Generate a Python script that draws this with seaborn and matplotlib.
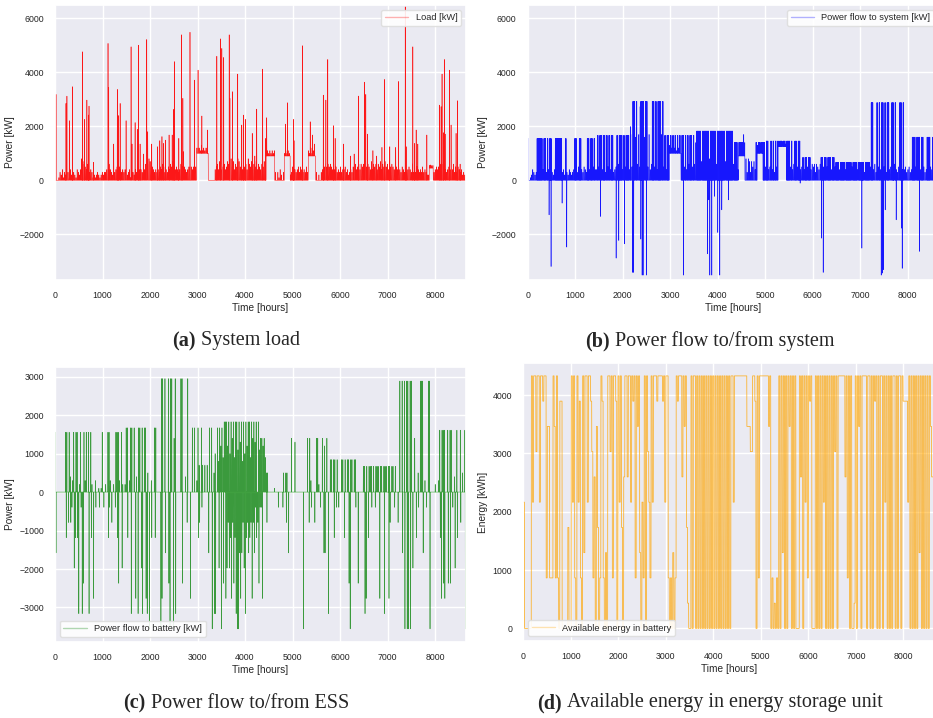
import numpy as np
import pandas as pd
import matplotlib
matplotlib.use("Agg")
import matplotlib.pyplot as plt
from matplotlib.ticker import MultipleLocator
import seaborn as sns

sns.set_theme(style="darkgrid")
plt.rcParams["font.family"] = ["Liberation Sans", "DejaVu Sans"]

HOURS_PER_DAY = 24

# Day codes: '.' nothing, digits = hundreds of kW, A..H = 1000..1700 kW,
# 'X' = full pulse up to the period's converter limit.
LEVEL_CODES = {".": 0}
LEVEL_CODES.update({str(n): n * 100 for n in range(10)})
LEVEL_CODES.update({c: 1000 + 100 * i for i, c in enumerate("ABCDEFGH")})

# ---------------------------------------------------------------- (a) load
load_band_rows = [
    "000132413243142332143248675463",
    "343121232123233456432134565434",
    "343234123243334435465687654343",
    "435465343546576454346545434565",
    "4545" "2121312122" "000000" "4564746564",
    "576485746587564756486574657465",
    "4657" "4" "12121212" "30314203" "121212" "354",
    "434535434353" "2131212" "30203465656",
    "565464534353445342343546456465",
    "657565474656465746575647565465",
    "454354353454363535434353432211",
    "113454546565434545463535434232",
]
load_plateau_start = [2980, 4440, 4830, 5330, 7880]
load_plateau_end = [3225, 4620, 4950, 5480, 7960]
load_plateau_kw = [1000, 900, 900, 900, 450]
load_peak_hour = [
    20, 230, 250, 300, 365, 580, 620, 670, 700, 715,
    810, 1115, 1130, 1235, 1310, 1335, 1370, 1495, 1600, 1620,
    1685, 1735, 1755, 1790, 1860, 1930, 1950, 2035, 2155, 2205,
    2250, 2280, 2320, 2400, 2465, 2490, 2510, 2605, 2665, 2690,
    2700, 2840, 2935, 3010, 3090, 3205, 3405, 3480, 3510, 3550,
    3665, 3680, 3735, 3845, 3930, 3965, 4005, 4150, 4205, 4245,
    4370, 4435, 4455, 4850, 4890, 5015, 5030, 5205, 5370, 5415,
    5460, 5645, 5700, 5740, 5860, 5895, 6070, 6215, 6295, 6385,
    6510, 6540, 6580, 6690, 6770, 6880, 6935, 7045, 7170, 7230,
    7370, 7390, 7530, 7565, 7600, 7635, 7825, 7895, 8090, 8125,
    8145, 8175, 8195, 8210, 8300, 8335, 8440, 8470, 8525,
]
load_peak_kw = [
    3185, 2850, 3120, 2210, 3470, 4765, 2260, 2975, 2420, 2750,
    670, 5075, 3440, 1345, 3370, 2400, 2850, 2210, 4950, 1345,
    2140, 1890, 5010, 1345, 975, 5220, 1800, 1345, 1245, 1470,
    1620, 1370, 1490, 1680, 1680, 2630, 4400, 1555, 5395, 3040,
    1060, 5490, 3715, 4085, 2385, 1865, 4600, 5245, 4890, 4555,
    5395, 3040, 3285, 3940, 2050, 2420, 2260, 1740, 900, 2640,
    4125, 1555, 2320, 2085, 2875, 2260, 1470, 4990, 2170, 1680,
    1345, 3160, 2975, 4480, 2025, 1555, 1345, 900, 975, 3125,
    3640, 3185, 1715, 1100, 900, 1220, 3740, 1245, 1220, 3665,
    6430, 1245, 4950, 1370, 1865, 1345, 1680, 570, 2790, 2730,
    3940, 1765, 4480, 1715, 4085, 2050, 1740, 2950, 600,
]

# ------------------------------------------------- (b) flow to/from system
limit_start_hour = [0, 1450, 2180, 2860, 3550, 4320, 4980, 5760, 6460, 7200, 7940]
flow_limit_kw = [1550, 1667, 2926, 1667, 1827, 1407, 1457, 850, 667, 2880, 1600]
flow_day_rows = [
    "X0124323XXXXX4XX3X4XX324XXXXXX",
    "342X3243234XX35XX43543XX4XX5X4",
    "4X5XX4XX3X5X4XX345X6XXX4X5XXX4",
    "H5XXGX6H5XXXGXX5H46XX5X4XXXHX5",
    "X4XX3X2X2X1X2X0XX5X4X6XX5X6EXX",
    "XX7XXXXXX8XXXXX6XXXXXXX7XXXXXX",
    "6XXX4XXXX85838737574X3XX4XXX5X",
    "X45X4X3X5X2XX2XX1XXX5X46XX5XX4",
    "5X4XX5XX465636546XX5XX5XXX4XX5",
    "XXX4XXXX4XXXXX5XXXX4XXXXX3XXXX",
    "5XX463X5X4XX5X3XX45XX6X435XX4X",
    "4534534XXX5XXX4XX534XXX54XX5XX",
]
flow_plateau_start = [2980, 4430, 4830, 5270]
flow_plateau_end = [3225, 4570, 4950, 5450]
flow_plateau_kw = [1000, 900, 1000, 1250]
flow_peak_hour = [
    449, 491, 723, 821, 1530, 1860, 1916, 2035, 2160, 2210,
    2230, 2365, 2380, 2407, 2428, 2500, 3277, 3782, 3810, 3832,
    3874, 3930, 4000, 4042, 4084, 4225, 5733, 6182, 6218, 7032,
    7439, 7467, 7488, 7523, 7700, 7754, 7840, 7867, 7881, 8246,
]
flow_peak_kw = [
    -1285, -3200, -850, -2480, -1345, -2890, -2235, -2360, 1990, -3420,
    -3420, 2730, -2185, -3520, -3520, -3520, -3520, -2730, -730, -3520,
    -3520, -600, -1940, -3520, -1100, -730, -110, -2150, -3420, -2520,
    -3520, -3445, -3320, -1100, 2050, -1470, 1640, -1780, -3270, -2640,
]

# ------------------------------------------------ (c) battery power flow
batt_limit_kw = [1556, 1670, 2948, 1670, 1826, 1400, 1400, 843, 670, 2887, 1609]
batt_charge_rows = [
    "X........XX.X4.3X.XX.2X..X3X.X",
    ".X2..3..1.1X..2.XX3..2.XXX3.X2",
    ".2XX.3XX.X.4.XX.X.XX.5..3..XX.",
    "...XX.X..X.XX.EX....XX..4.X...",
    "X.X.3X7.X7.7.7.X.X.5A.X8XCX9XX",
    "XCXAXEX9XXBXDX8XAXCXX9XEXDX.XB",
    "XXCX955.....1.......5.55...X..",
    "D..........X.X3....XX2..X.C.X.",
    ".XX.XX.X...XX.X.XX.XX.XX......",
    "XX.X.XXX.X.XXX.XX.XXX.XX.XX.X.",
    "..X.X.X.XX.XX..E..5.XXX.3..XX.",
    "...2..3X.XXX..X.XX..4.X..X.5.X",
]
# discharge depth per day, in steps of 395 kW
batt_discharge_rows = [
    "400000000302021053038018600008",
    "030701001000100031020010360050",
    "000300800070800580078090300300",
    "009700400690090800000600020070",
    "000003201000004009088005090607",
    "525372638994742583243272413261",
    "170002000000000100010020400000",
    "0000000900" "0020100200" "0010044008",
    "0000301010" "0003000690" "0001060000",
    "087030010010007000800072000100",
    "200040909909050030100040010090",
    "000000037067006060105030020009",
]
DISCHARGE_STEP_KW = 395

# --------------------------------------------- (d) stored energy, per day
# '0'..'9' = n * 433 kWh, 'F' = full (4330 kWh)
soc_rows = [
    "5000000F5FF7FF5FF9FF288222F82F",
    "209900000400F5F20F5920F3FF5FF9",
    "72608402F92030FF7F2FF90F5F406F",
    "F6FF5F9F2F8F3052F0F752F5FFF9FF",
    "FF9F5FF2020302F9FFF6F8F4100F0F",
    "F0F0F0F0F0F0F0F0F0F0F0F0F0F0F0",
    "F0FF5FFFFFFFFFFF88877FF90F2FFF",
    "FFFFF8F0201020F0F3F0F0F8F0F0F0",
    "00F6F0F5F2F9F000F0F0F0F5F0F0F0",
    "F0F7F0FFFFFF6F2F0F001F0F8F0FFF",
    "F0FF0F0F9F0F0FF0F5F0F0F0FF0F0F",
    "F0F99995F0F0F0F0F3F0F0F0F0F866",
]
SOC_STEP_KWH = 433


def plateau_base(n_hours, starts, ends, levels):
    base = np.zeros(n_hours)
    for s, e, v in zip(starts, ends, levels):
        base[s:e] = v
    return base


def limit_at(hour, starts, limits):
    return limits[np.searchsorted(starts, hour, side="right") - 1]


def daily_pulses(codes, base, starts, limits, windows):
    """Apply one day code per day; 'X' days run at the limit during each window."""
    y = base.copy()
    for d, c in enumerate(codes):
        h0 = d * HOURS_PER_DAY
        if c == "X":
            cap = limit_at(h0, starts, limits)
            for a, b in windows:
                y[h0 + a:h0 + b] = cap
        elif c != ".":
            y[h0 + 8:h0 + 12] = base[h0 + 8:h0 + 12] + LEVEL_CODES[c]
    return y


def add_peaks(y, hours, values):
    for h, v in zip(hours, values):
        y[h:h + 2] = v
    return y


# ---- build hourly series
load_codes = "".join(load_band_rows)
n_hours = len(load_codes) * HOURS_PER_DAY
hours = np.arange(n_hours)

load = plateau_base(n_hours, load_plateau_start, load_plateau_end, load_plateau_kw)
load = daily_pulses(load_codes, load, limit_start_hour, flow_limit_kw, [(3, 6)])
load = add_peaks(load, load_peak_hour, load_peak_kw)

flow = plateau_base(n_hours, flow_plateau_start, flow_plateau_end, flow_plateau_kw)
flow = daily_pulses("".join(flow_day_rows), flow, limit_start_hour, flow_limit_kw,
                    [(3, 6), (14, 17)])
flow = add_peaks(flow, flow_peak_hour, flow_peak_kw)

batt = daily_pulses("".join(batt_charge_rows), np.zeros(n_hours),
                    limit_start_hour, batt_limit_kw, [(8, 11)])
for d, c in enumerate("".join(batt_discharge_rows)):
    if c != "0":
        h0 = d * HOURS_PER_DAY
        batt[h0 + 19:h0 + 22] = -int(c) * DISCHARGE_STEP_KW

soc_levels = np.array(["0123456789F".index(c) * SOC_STEP_KWH
                       for c in "".join(soc_rows)], dtype=float)
soc = np.repeat(soc_levels, HOURS_PER_DAY)

frames = {
    "load": pd.DataFrame({"hour": hours, "kw": load}),
    "flow": pd.DataFrame({"hour": hours, "kw": flow}),
    "batt": pd.DataFrame({"hour": hours, "kw": batt}),
    "soc": pd.DataFrame({"hour": hours[:len(soc)], "kw": soc}),
}

# ---- figure
W, H = 933, 718
fig = plt.figure(figsize=(W / 100, H / 100), dpi=100)


def axes_px(left, top, width, height):
    return fig.add_axes([left / W, 1 - (top + height) / H, width / W, height / H])


ax_a = axes_px(55, 5, 411, 275)
ax_b = axes_px(527.7, 5, 411, 275)
ax_c = axes_px(55, 366.7, 411, 275)
ax_d = axes_px(523.3, 363.3, 411, 277.7)

panels = [
    (ax_a, "load", "red", 0.9, 0.4, "Load [kW]", "Power [kW]", (-3700, 6500), 2000, "upper right"),
    (ax_b, "flow", "blue", 0.9, 0.4, "Power flow to system [kW]", "Power [kW]", (-3700, 6500), 2000, "upper right"),
    (ax_c, "batt", "green", 0.75, 0.45, "Power flow to battery [kW]", "Power [kW]", (-3890, 3260), 1000, "lower left"),
    (ax_d, "soc", "orange", 0.85, 0.55, "Available energy in battery", "Energy [kWh]", (-216, 4546), 1000, "lower left"),
]

for ax, key, color, alpha, lw, label, ylabel, ylim, ystep, loc in panels:
    sns.lineplot(data=frames[key], x="hour", y="kw", ax=ax, color=color,
                 alpha=alpha, linewidth=lw, label=label, estimator=None, sort=False)
    ax.set_xlim(0, 8650)
    ax.set_ylim(*ylim)
    ax.xaxis.set_major_locator(MultipleLocator(1000))
    ax.yaxis.set_major_locator(MultipleLocator(ystep))
    ax.tick_params(labelsize=6.3, pad=2)
    ax.set_xlabel("Time [hours]", fontsize=7.3, labelpad=2)
    ax.set_ylabel(ylabel, fontsize=7.3, labelpad=3)
    leg = ax.legend(loc=loc, fontsize=6.7, frameon=True, facecolor="white",
                    framealpha=0.9, edgecolor="#dddddd", handlelength=2.5)
    for handle in leg.get_lines():
        handle.set_alpha(0.3)
        handle.set_linewidth(1.0)

# ---- sub-captions
renderer = fig.canvas.get_renderer()
serif = ["Liberation Serif", "DejaVu Serif"]


def caption(xc, yc, tag, text):
    t1 = fig.text(0, 1 - yc / H, tag, family=serif, fontweight="bold",
                  fontsize=14.5, va="center")
    t2 = fig.text(0, 1 - yc / H, "\u00a0" + text, family=serif,
                  fontsize=14.5, va="center")
    w1 = t1.get_window_extent(renderer).width
    w2 = t2.get_window_extent(renderer).width
    x0 = xc - (w1 + w2) / 2
    t1.set_x(x0 / W)
    t2.set_x((x0 + w1) / W)


caption(236, 341, "(a)", "System load")
caption(710, 341, "(b)", "Power flow to/from system")
caption(236, 703, "(c)", "Power flow to/from ESS")
caption(710, 703, "(d)", "Available energy in energy storage unit")

fig.savefig("out.png", dpi=100)
